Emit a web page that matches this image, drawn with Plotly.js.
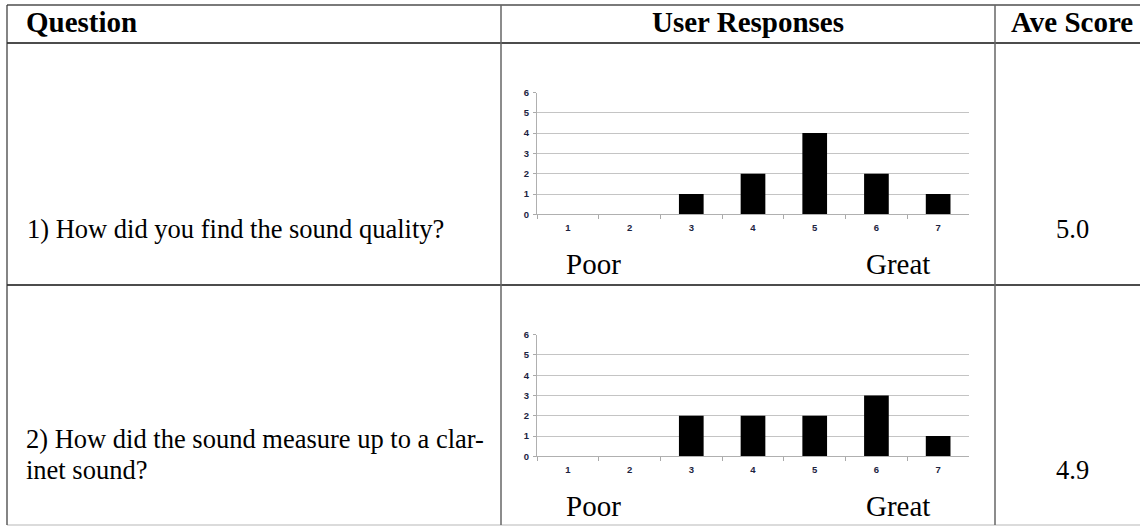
<!DOCTYPE html>
<html>
<head>
<meta charset="utf-8">
<script src="https://cdn.plot.ly/plotly-3.0.1.min.js"></script>
<style>html,body{margin:0;padding:0;background:#fff;}#chart{width:1140px;height:527px;}</style>
</head>
<body>
<div id="chart"></div>
<script>
// ---- data ----
const headers = ["Question", "User Responses", "Ave Score"];
const scoreCategories = ["1", "2", "3", "4", "5", "6", "7"];
const q1Counts = [0, 0, 1, 2, 4, 2, 1];
const q2Counts = [0, 0, 2, 2, 2, 3, 1];
const q1TextLines = ["1) How did you find the sound quality?"];
const q2TextLines = ["2) How did the sound measure up to a clar-", "inet sound?"];
const aveScores = ["5.0", "4.9"];
const scaleLabels = ["Poor", "Great"];

// ---- layout helpers (pixel -> paper) ----
const W = 1140, H = 527;
const px = x => x / W;
const py = y => 1 - y / H;

function line(x0, y0, x1, y1, color, width) {
  return {type: 'line', xref: 'paper', yref: 'paper', x0: px(x0), y0: py(y0), x1: px(x1), y1: py(y1),
          line: {color: color, width: width}, layer: 'above'};
}

const shapes = [
  line(7, 5, 1140, 5, '#7a7a7a', 2),
  line(7, 43, 1140, 43, '#111', 1.5),
  line(7, 285, 1140, 285, '#111', 1.5),
  line(7, 525, 1140, 525, '#cfcfcf', 1.5),
  line(7, 5, 7, 525, '#333', 1.2),
  line(501, 5, 501, 525, '#666', 1.5),
  line(995, 5, 995, 525, '#666', 1.5)
];

const serif = 'Liberation Serif, Times New Roman, serif';
function ann(text, x, y, size, opts) {
  return Object.assign({xref: 'paper', yref: 'paper', x: px(x), y: py(y), text: text, showarrow: false,
    xanchor: 'center', yanchor: 'middle', font: {family: serif, size: size, color: '#000'}}, opts || {});
}

const hs = 29, bs = 26.5, ps = 29;
const annotations = [
  ann('<b>' + headers[0] + '</b>', 24, 22, hs, {xanchor: 'left'}),
  ann('<b>' + headers[1] + '</b>', 748, 22, hs),
  ann('<b>' + headers[2] + '</b>', 1072, 22, hs),
  ann(q1TextLines[0], 25, 229, bs, {xanchor: 'left'}),
  ann(q2TextLines[0], 24, 439, bs, {xanchor: 'left'}),
  ann(q2TextLines[1], 24, 470, bs, {xanchor: 'left'}),
  ann(aveScores[0], 1072, 229, bs),
  ann(aveScores[1], 1072, 470, bs),
  ann(scaleLabels[0], 593, 264, ps),
  ann(scaleLabels[1], 898, 264, ps),
  ann(scaleLabels[0], 593, 506, ps),
  ann(scaleLabels[1], 898, 506, ps)
];

const tickFont = {family: 'Liberation Sans, Arial, sans-serif', size: 9.5, color: '#1c2340', weight: 'bold'};

function xAx(anchor) {
  return {domain: [px(537), px(969)], type: 'category', anchor: anchor, tickson: 'boundaries',
    ticks: 'outside', ticklen: 4, tickcolor: '#aaaaaa', tickwidth: 1,
    showline: true, linecolor: '#b0b0b0', linewidth: 1, showgrid: false, zeroline: false,
    tickfont: tickFont, ticklabelstandoff: 4, fixedrange: true};
}
function yAx(anchor, y0pix, y6pix) {
  return {domain: [py(y0pix), py(y6pix)], anchor: anchor, range: [0, 6], dtick: 1, tick0: 0,
    showgrid: true, gridcolor: '#c4c4c4', gridwidth: 1, showline: true, linecolor: '#b0b0b0', linewidth: 1,
    ticks: 'outside', ticklen: 3, tickcolor: '#aaaaaa', zeroline: false,
    tickfont: tickFont, ticklabelstandoff: 2, fixedrange: true};
}

const barStyle = {color: '#000000', line: {color: '#3a3a3a', width: 0}};
const data = [
  {type: 'bar', x: scoreCategories, y: q1Counts, xaxis: 'x', yaxis: 'y', marker: barStyle, hoverinfo: 'x+y'},
  {type: 'bar', x: scoreCategories, y: q2Counts, xaxis: 'x2', yaxis: 'y2', marker: barStyle, hoverinfo: 'x+y'}
];

const layout = {
  width: W, height: H, margin: {l: 0, r: 0, t: 0, b: 0, pad: 0},
  paper_bgcolor: '#ffffff', plot_bgcolor: 'rgba(0,0,0,0)', showlegend: false,
  bargap: 0.6,
  xaxis: xAx('y'), yaxis: yAx('x', 214.3, 92.5),
  xaxis2: xAx('y2'), yaxis2: yAx('x2', 456.3, 334.7),
  shapes: shapes, annotations: annotations
};

Plotly.newPlot('chart', data, layout, {displayModeBar: false, staticPlot: true});
</script>
</body>
</html>
